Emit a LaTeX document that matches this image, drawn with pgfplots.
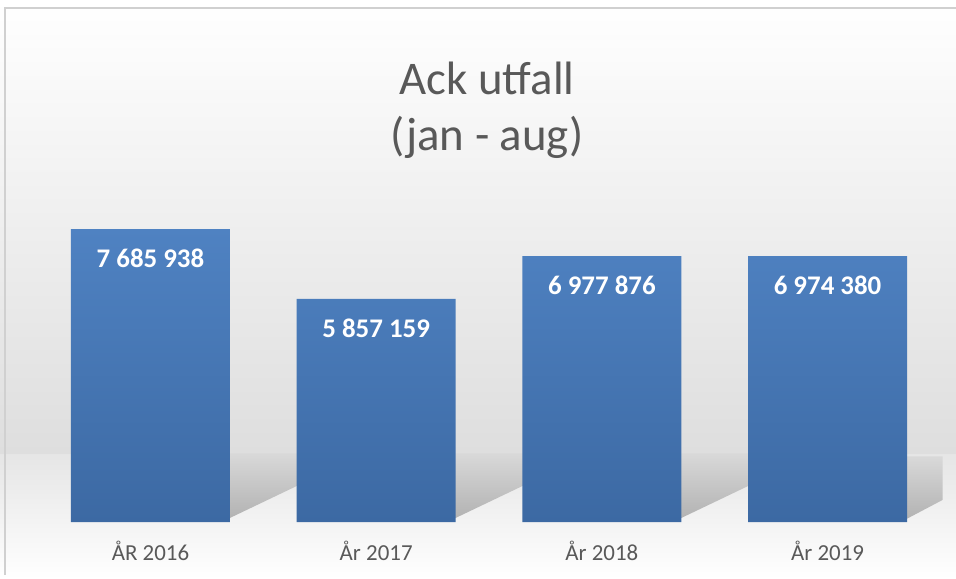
\documentclass[border=0pt]{standalone}
\usepackage{pgfplots}
\pgfplotsset{compat=1.18}
\usepackage{fontspec}
\setmainfont{Carlito}
\definecolor{txtgray}{HTML}{595959}
\definecolor{bartop}{HTML}{4F82C2}
\definecolor{barbot}{HTML}{3C69A3}
\definecolor{framegray}{HTML}{D0D0D0}

\begin{document}
\begin{tikzpicture}
\useasboundingbox (0,0) rectangle (956bp,579bp);
% background
\fill[top color=white, bottom color=black!13] (0,124bp) rectangle (956bp,579bp);
\fill[top color=black!10, bottom color=white] (0,0) rectangle (956bp,124bp);
\draw[framegray, line width=1.5bp] (5bp,4bp) -- (5bp,571bp) -- (960bp,571bp);
% title
\node[anchor=base, text=txtgray, font=\fontsize{47}{56}\selectfont] at (487bp,484bp) {Ack utfall};
\node[anchor=base, text=txtgray, font=\fontsize{47}{56}\selectfont] at (487bp,428bp) {(jan - aug)};

\begin{axis}[
  at={(37.6bp,57bp)}, anchor=south west,
  scale only axis, width=902.8bp, height=343bp,
  xmin=-0.5, xmax=3.5, ymin=0, ymax=9000000,
  clip=false,
  axis line style={draw=none},
  ytick=\empty,
  xtick=data, xticklabels={ÅR 2016, År 2017, År 2018, År 2019},
  major tick length=0pt,
  xticklabel style={anchor=base, yshift=-38bp, text=txtgray, font=\fontsize{23}{26}\selectfont},
  ybar, bar width=159bp,
  point meta=explicit symbolic,
  nodes near coords,
  nodes near coords style={anchor=north, yshift=-20bp, inner sep=0pt, text=white,
    font=\bfseries\fontsize{27}{30}\selectfont},
]
% floor shadows behind the bars
\pgfplotsinvokeforeach{0.35,1.35,2.35}{
  \shade[top color=black!15, bottom color=black!30]
    (axis cs:#1,100000) -- (axis cs:#1,1800000) -- (axis cs:#1+0.3,1800000) -- (axis cs:#1+0.3,950000) -- cycle;
}
\shade[top color=black!15, bottom color=black!30]
  (axis cs:3.35,80000) -- (axis cs:3.35,1720000) -- (axis cs:3.51,1720000) -- (axis cs:3.51,580000) -- cycle;
\addplot[draw=none, top color=bartop, bottom color=barbot] coordinates {
  (0,7685938) [7 685 938]
  (1,5857159) [5 857 159]
  (2,6977876) [6 977 876]
  (3,6974380) [6 974 380]
};
\end{axis}
\end{tikzpicture}
\end{document}
